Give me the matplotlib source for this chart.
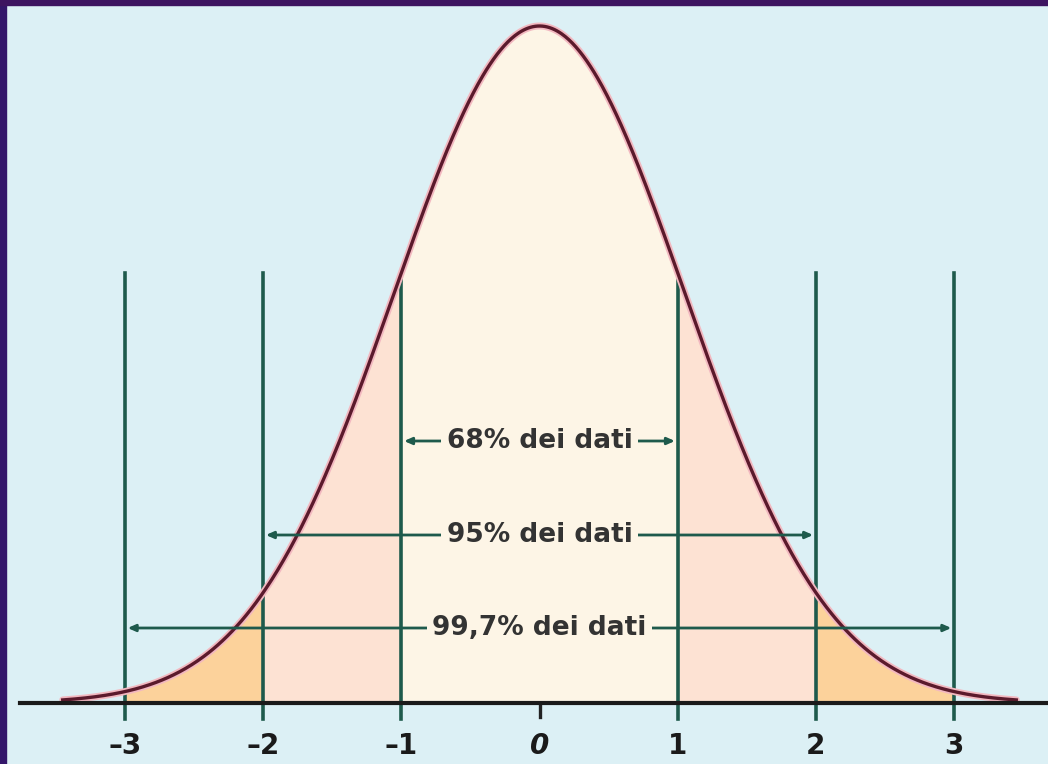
import numpy as np
import matplotlib
matplotlib.use("Agg")
import matplotlib.pyplot as plt
from matplotlib.patches import Rectangle

# ---- data ----
mean = 0.0
sd = 1.05          # visual spread of the drawn bell curve (in axis units)
sigma_marks = [-3, -2, -1, 1, 2, 3]
tick_values = [-3, -2, -1, 0, 1, 2, 3]
tick_labels = ["\u20133", "\u20132", "\u20131", "0", "1", "2", "3"]
band_labels = ["68% dei dati", "95% dei dati", "99,7% dei dati"]
band_halfwidths = [1, 2, 3]
band_colors = ["#fdf5e6", "#fde2d3", "#fcd29b"]   # |x|<1, 1-2, 2-3

# ---- figure ----
W, H = 1048, 764
fig = plt.figure(figsize=(W / 100, H / 100), dpi=100)
fig.patch.set_facecolor("#dcf0f5")
ax = fig.add_axes([0, 0, 1, 1])
ax.set_facecolor("#dcf0f5")
ax.axis("off")

def pdf(x):
    return np.exp(-0.5 * ((x - mean) / sd) ** 2) / (sd * np.sqrt(2 * np.pi))

# pixel mapping helpers (layout)
x0_px, unit_px = 539.5, 138.2
axis_px, peak_px = 703, 26
ppu = (axis_px - peak_px) / pdf(mean)
ax.set_xlim((0 - x0_px) / unit_px, (W - x0_px) / unit_px)
ax.set_ylim(-(H - axis_px) / ppu, axis_px / ppu)
def ypx(p):
    return (axis_px - p) / ppu

# fills
for lo, hi, c in [(-1, 1, band_colors[0]), (1, 2, band_colors[1]), (-2, -1, band_colors[1]),
                  (2, 3, band_colors[2]), (-3, -2, band_colors[2])]:
    xs = np.linspace(lo, hi, 200)
    ax.fill_between(xs, 0, pdf(xs), color=c, lw=0, zorder=1)

# curve
xc = np.linspace(-3.45, 3.45, 800)
ax.plot(xc, pdf(xc), color="#f2b8c0", lw=5, zorder=3, solid_capstyle="round")
ax.plot(xc, pdf(xc), color="#5b1a2c", lw=2.4, zorder=4)

# vertical sigma lines
green = "#1e5a4c"
for m in sigma_marks:
    ax.plot([m, m], [ypx(719), ypx(273)], color=green, lw=2.6, zorder=2)
ax.plot([0, 0], [ypx(717), 0], color="#222222", lw=2.4, zorder=5)

# axis line
ax.plot([(20 - x0_px) / unit_px, (W - x0_px) / unit_px], [0, 0], color="#1a1a1a", lw=3, zorder=5)

# band arrows
band_y_px = [441, 535, 628]
for lab, hw, yp in zip(band_labels, band_halfwidths, band_y_px):
    y = ypx(yp)
    ax.annotate("", xy=(-hw + 0.02, y), xytext=(hw - 0.02, y),
                arrowprops=dict(arrowstyle="<|-|>,head_length=0.45,head_width=0.2",
                                color=green, lw=2, shrinkA=0, shrinkB=0), zorder=6)
    ax.text(0, y, lab, ha="center", va="center", fontsize=19, color="#333333",
            family="DejaVu Sans", weight="bold", zorder=7,
            bbox=dict(boxstyle="square,pad=0.2", fc=band_colors[0], ec="none"))

# tick labels
for v, t in zip(tick_values, tick_labels):
    ax.text(v, ypx(746), t, ha="center", va="center", fontsize=20, color="#1a1a1a",
            style="italic" if v == 0 else "normal", weight="bold",
            family="DejaVu Sans", zorder=7)

# dark frame strips (left and top)
fig.patches.append(Rectangle((0, 0), 6 / W, 1, transform=fig.transFigure,
                             color="#33166a", zorder=10))
fig.patches.append(Rectangle((0, 1 - 5 / H), 1, 5 / H, transform=fig.transFigure,
                             color="#3d1460", zorder=10))

fig.savefig("out.png", dpi=100, facecolor=fig.get_facecolor())
